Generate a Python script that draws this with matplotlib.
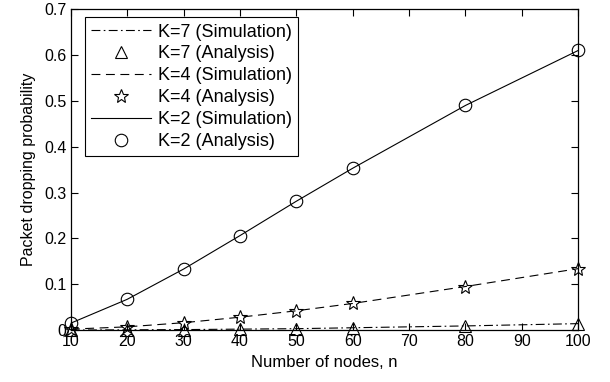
import matplotlib
matplotlib.use("Agg")
import matplotlib.pyplot as plt

plt.rcParams['font.family'] = ['Liberation Sans', 'DejaVu Sans']

n = [10, 20, 30, 40, 50, 60, 80, 100]
k2 = [0.015, 0.067, 0.133, 0.206, 0.281, 0.353, 0.490, 0.610]
k4 = [0.002, 0.007, 0.016, 0.028, 0.042, 0.058, 0.095, 0.134]
k7 = [0.0, 0.0005, 0.001, 0.002, 0.003, 0.005, 0.009, 0.014]
xticks = [10, 20, 30, 40, 50, 60, 70, 80, 90, 100]
yticks = [0, 0.1, 0.2, 0.3, 0.4, 0.5, 0.6, 0.7]

fig = plt.figure(figsize=(6.1, 3.82), dpi=100)
ax = fig.add_axes([0.116, 0.136, 0.832, 0.840])

ax.plot(n, k7, color='k', lw=0.8, linestyle=(0, (8, 3, 1.5, 3)), label='K=7 (Simulation)')
ax.plot(n, k7, 'k^', mfc='none', ms=9, mew=0.8, linestyle='none', clip_on=False, label='K=7 (Analysis)')
ax.plot(n, k4, color='k', lw=0.8, linestyle=(0, (8, 5)), label='K=4 (Simulation)')
ax.plot(n, k4, 'k*', mfc='none', ms=10, mew=0.8, linestyle='none', clip_on=False, label='K=4 (Analysis)')
ax.plot(n, k2, color='k', lw=0.8, label='K=2 (Simulation)')
ax.plot(n, k2, 'ko', mfc='none', ms=9, mew=0.8, linestyle='none', clip_on=False, label='K=2 (Analysis)')

ax.set_xlim(10, 100)
ax.set_ylim(0, 0.7)
ax.set_xticks(xticks)
ax.set_yticks(yticks)
ax.set_yticklabels(['0', '0.1', '0.2', '0.3', '0.4', '0.5', '0.6', '0.7'])
ax.tick_params(direction='in', top=True, right=True, labelsize=11.5, length=5, width=0.8, pad=3)
for s in ax.spines.values():
    s.set_linewidth(0.9)
ax.set_xlabel('Number of nodes, n', fontsize=12, labelpad=4)
ax.set_ylabel('Packet dropping probability', fontsize=11.5, labelpad=6)

leg = ax.legend(loc='upper left', bbox_to_anchor=(0.028, 0.975), fontsize=13,
                fancybox=False, edgecolor='k', framealpha=1, handlelength=3.3,
                labelspacing=0.27, borderpad=0.35, handletextpad=0.4, borderaxespad=0)
leg.get_frame().set_linewidth(0.8)

fig.savefig('out.png', dpi=100)
